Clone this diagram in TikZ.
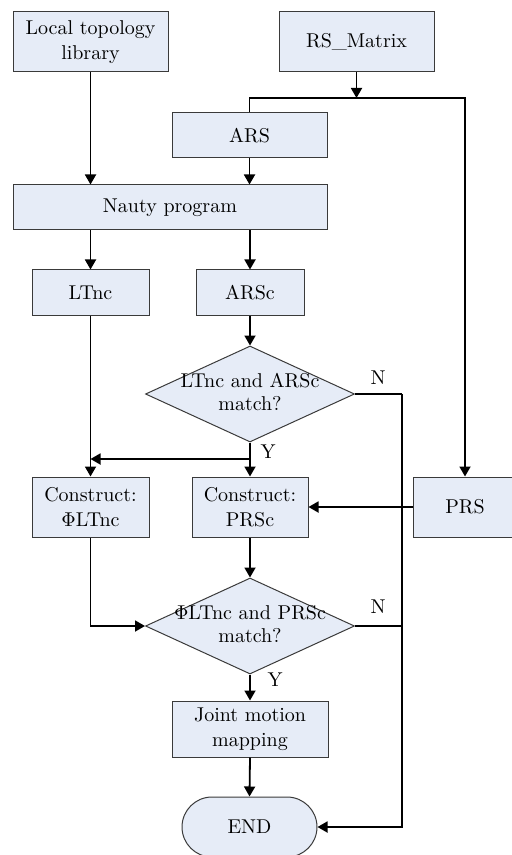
\documentclass[tikz,border=0pt]{standalone}
\usetikzlibrary{shapes.geometric,shapes.misc,arrows.meta}
\definecolor{boxfill}{HTML}{E6ECF7}
\definecolor{boxline}{HTML}{3A3A3A}
\begin{document}
\begin{tikzpicture}[x=0.5pt,y=-0.5pt,
  font=\fontsize{10}{12.5}\selectfont,
  box/.style={draw=boxline,fill=boxfill,line width=0.5pt,inner sep=0pt,align=center},
  dia/.style={draw=boxline,fill=boxfill,line width=0.5pt,diamond,inner sep=0pt,aspect=2.18,
    minimum width=104.5pt,minimum height=48pt},
  stad/.style={draw=boxline,fill=boxfill,line width=0.5pt,rounded rectangle,inner sep=0pt,
    minimum width=67.5pt,minimum height=30pt},
  arr/.style={line width=0.9pt,-{Triangle[length=5pt,width=5.5pt]}},
  ln/.style={line width=0.9pt},
  lbl/.style={inner sep=0pt}]
\useasboundingbox (0,0) rectangle (511,855);

\node[box,minimum width=77.5pt,minimum height=30pt] (lib) at (90.5,42) {Local topology\\library};
\node[box,minimum width=77.5pt,minimum height=30pt] (rsm) at (356.5,42) {RS\_Matrix};
\node[box,minimum width=77.5pt,minimum height=22.5pt] (ars) at (249.5,135.5) {ARS};
\node[box,minimum width=157pt,minimum height=22.5pt] (nauty) at (170,207.5) {Nauty program};
\node[box,minimum width=58.5pt,minimum height=22.5pt] (ltnc) at (90.5,292.5) {LTnc};
\node[box,minimum width=54pt,minimum height=22.5pt] (arsc) at (250,292.5) {ARSc};
\node[dia] (d1) at (250,394) {\makebox[0pt]{\begin{tabular}{@{}c@{}}LTnc and ARSc\\[-1pt]match?\end{tabular}}};
\node[box,minimum width=58.5pt,minimum height=30pt] (phi) at (90.5,507) {Construct:\\$\Phi$LTnc};
\node[box,minimum width=58pt,minimum height=30pt] (prsc) at (250,507) {Construct:\\PRSc};
\node[box,minimum width=52pt,minimum height=30pt] (prs) at (465,507) {PRS};
\node[dia] (d2) at (250,626) {\makebox[0pt]{\begin{tabular}{@{}c@{}}$\Phi$LTnc and PRSc\\[-1pt]match?\end{tabular}}};
\node[box,minimum width=78pt,minimum height=28pt] (jm) at (250,729) {Joint motion\\mapping};
\node[stad] (end) at (249.5,827) {END};

\coordinate (j1) at (356.5,98);
\coordinate (yb) at (250,459);
\coordinate (nx) at (402,394);

% top part
\draw[arr] (lib.south) -- (lib.south |- nauty.north);
\draw[arr] (rsm.south) -- (j1);
\draw[ln] (ars.north) |- (j1);
\draw[arr] (j1) -| (prs.north);
\draw[arr] (ars.south) -- (ars.south |- nauty.north);
\draw[arr] (ltnc.north |- nauty.south) -- (ltnc.north);
\draw[arr] (arsc.north |- nauty.south) -- (arsc.north);
\draw[arr] (arsc.south) -- (d1.north);

% first decision
\draw[ln] (d1.east) -- (nx);
\draw[arr] (nx) |- (end.east);
\draw[arr] (d1.south) -- (prsc.north);
\draw[arr] (yb) -- (ltnc.south |- yb);
\draw[arr] (ltnc.south) -- (phi.north);
\draw[arr] (prs.west) -- (prsc.east);

% second decision
\draw[arr] (prsc.south) -- (d2.north);
\draw[arr] (phi.south) |- (d2.west);
\draw[ln] (d2.east) -- (nx |- d2.east);
\draw[arr] (d2.south) -- (jm.north);
\draw[arr] (jm.south) -- (end.north);

% labels
\node[lbl] (n1) at (378,378) {N};
\node[lbl] (n2) at (378,607) {N};
\node[lbl] (y1) at (268,452) {Y};
\node[lbl] (y2) at (275,680) {Y};
\end{tikzpicture}
\end{document}
